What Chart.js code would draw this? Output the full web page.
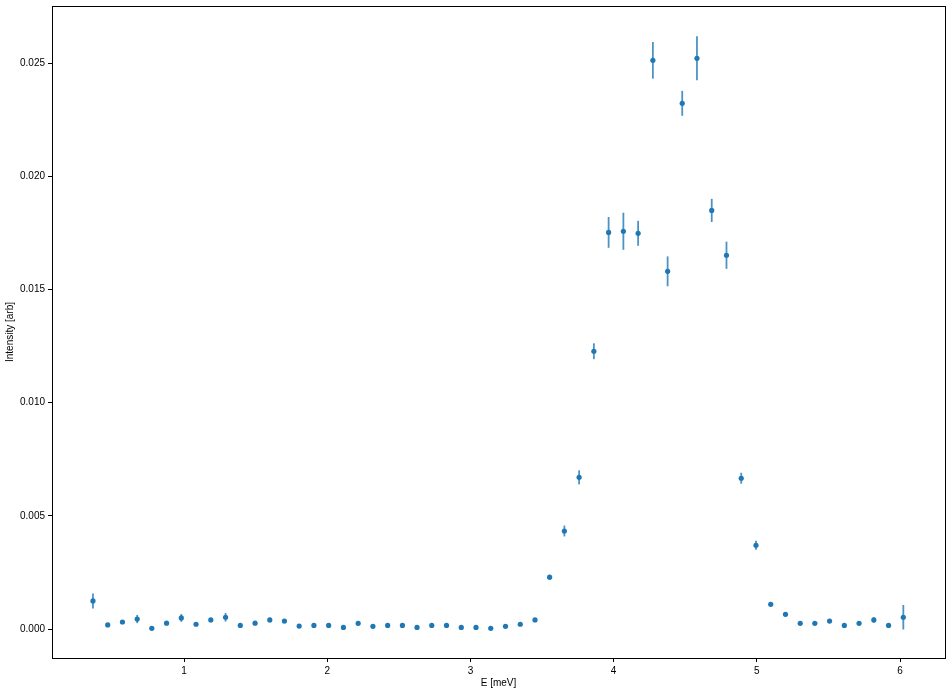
<!DOCTYPE html>
<html>
<head>
<meta charset="utf-8">
<script src="https://cdn.jsdelivr.net/npm/chart.js@4/dist/chart.umd.min.js"></script>
<style>html,body{margin:0;padding:0;background:#fff;}canvas{display:block;}</style>
</head>
<body>
<canvas id="c" width="952" height="695"></canvas>
<script>
const energy = [0.364,0.467,0.570,0.673,0.775,0.878,0.981,1.084,1.187,1.290,1.393,1.496,1.599,1.701,1.804,1.907,2.010,2.113,2.216,2.319,2.422,2.525,2.627,2.730,2.833,2.936,3.039,3.142,3.245,3.348,3.451,3.553,3.656,3.759,3.862,3.965,4.068,4.171,4.274,4.377,4.479,4.582,4.685,4.788,4.891,4.994,5.097,5.200,5.303,5.405,5.508,5.611,5.714,5.817,5.920,6.023];
const intensity = [0.00124,0.00018,0.00031,0.00044,0.00003,0.00026,0.00049,0.00021,0.00040,0.00052,0.00016,0.00026,0.00040,0.00035,0.00013,0.00016,0.00016,0.00007,0.00025,0.00012,0.00016,0.00016,0.00007,0.00016,0.00016,0.00007,0.00007,0.00003,0.00012,0.00021,0.00040,0.00229,0.00433,0.00670,0.01227,0.01752,0.01757,0.01748,0.02512,0.01580,0.02322,0.02521,0.01849,0.01651,0.00666,0.00370,0.00109,0.00065,0.00025,0.00025,0.00035,0.00016,0.00025,0.00040,0.00016,0.00052];
const intensityErr = [0.00033,0.00005,0.00006,0.00018,0.00004,0.00007,0.00017,0.00007,0.00008,0.00019,0.00005,0.00006,0.00010,0.00008,0.00005,0.00005,0.00005,0.00004,0.00008,0.00005,0.00005,0.00009,0.00004,0.00005,0.00006,0.00004,0.00004,0.00004,0.00005,0.00007,0.00009,0.00010,0.00024,0.00031,0.00035,0.00068,0.00082,0.00055,0.00081,0.00066,0.00055,0.00097,0.00051,0.00060,0.00024,0.00020,0.00007,0.00009,0.00005,0.00005,0.00007,0.00005,0.00006,0.00012,0.00005,0.00054];
const xTicks = [1,2,3,4,5,6];
const yTicks = [0.000,0.005,0.010,0.015,0.020,0.025];

const points = energy.map((e,i)=>({x:e, y:intensity[i]}));
const FONT = {family:'"Liberation Sans", Arial, sans-serif', size:10};

const errorBars = {
  id:'errorBars',
  beforeDatasetsDraw(chart){
    const ctx = chart.ctx, xs = chart.scales.x, ys = chart.scales.y, a = chart.chartArea;
    ctx.save();
    ctx.beginPath(); ctx.rect(a.left,a.top,a.right-a.left,a.bottom-a.top); ctx.clip();
    ctx.strokeStyle = 'rgba(31,119,180,0.8)';
    ctx.lineWidth = 1.8;
    energy.forEach((e,i)=>{
      const px = xs.getPixelForValue(e);
      const y1 = ys.getPixelForValue(intensity[i]-intensityErr[i]);
      const y2 = ys.getPixelForValue(intensity[i]+intensityErr[i]);
      ctx.beginPath(); ctx.moveTo(px,y1); ctx.lineTo(px,y2); ctx.stroke();
    });
    ctx.restore();
  },
  afterDraw(chart){
    const ctx = chart.ctx, a = chart.chartArea;
    ctx.save();
    ctx.strokeStyle = '#000'; ctx.lineWidth = 1;
    ctx.strokeRect(Math.round(a.left)+0.5, Math.round(a.top)+0.5, Math.round(a.right-a.left), Math.round(a.bottom-a.top));
    ctx.restore();
  }
};

new Chart(document.getElementById('c'), {
  type:'scatter',
  data:{datasets:[{
    data:points,
    backgroundColor:'#1f77b4',
    borderColor:'#1f77b4',
    pointRadius:2.6,
    pointBorderWidth:0,
    pointHoverRadius:2.6
  }]},
  options:{
    responsive:false,
    animation:false,
    devicePixelRatio:1,
    layout:{padding:{left:0,right:7,top:6,bottom:0}},
    plugins:{legend:{display:false},tooltip:{enabled:false}},
    scales:{
      x:{
        type:'linear', min:0.078, max:6.314,
        afterBuildTicks(ax){ ax.ticks = xTicks.map(v=>({value:v})); },
        afterFit(ax){ ax.height = 37; ax.paddingLeft = 0; ax.paddingRight = 0; },
        ticks:{color:'#000', font:FONT, padding:3, maxRotation:0, callback:v=>String(v)},
        grid:{display:true, drawOnChartArea:false, drawTicks:true, tickLength:4, color:'#000', tickWidth:1},
        border:{display:false},
        title:{display:true, text:'E [meV]', color:'#000', font:FONT, padding:{top:0,bottom:6}}
      },
      y:{
        type:'linear', min:-0.00128, max:0.02752,
        afterBuildTicks(ax){ ax.ticks = yTicks.map(v=>({value:v})); },
        afterFit(ax){ ax.width = 52; ax.paddingTop = 0; ax.paddingBottom = 0; },
        ticks:{color:'#000', font:FONT, padding:3, callback:v=>v.toFixed(3)},
        grid:{display:true, drawOnChartArea:false, drawTicks:true, tickLength:4, color:'#000', tickWidth:1},
        border:{display:false},
        title:{display:true, text:'Intensity [arb]', color:'#000', font:FONT, padding:{top:4,bottom:0}}
      }
    }
  },
  plugins:[errorBars]
});
</script>
</body>
</html>
